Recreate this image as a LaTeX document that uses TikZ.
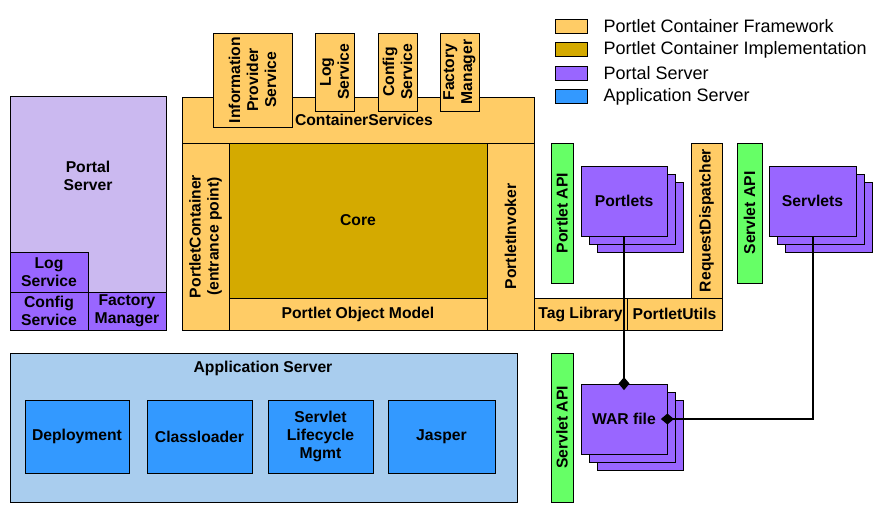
\documentclass[tikz,border=0pt]{standalone}
\usepackage{fontspec}
\setmainfont{Liberation Sans}
\usetikzlibrary{positioning,arrows.meta,fit,shadows}
\definecolor{fwcol}{HTML}{FFCC66}
\definecolor{implcol}{HTML}{D4AA00}
\definecolor{pscol}{HTML}{9966FF}
\definecolor{ascol}{HTML}{3399FF}
\definecolor{apicol}{HTML}{66FF66}
\definecolor{pslight}{HTML}{CBB9F0}
\definecolor{aslight}{HTML}{A9CDEE}

\begin{document}
\begin{tikzpicture}[x=1pt, y=-1pt, font=\bfseries\fontsize{15.7}{18}\selectfont,
  box/.style={draw, line width=0.8pt, inner sep=0pt, align=center},
  fw/.style={box, fill=fwcol}, impl/.style={box, fill=implcol},
  ps/.style={box, fill=pscol}, as/.style={box, fill=ascol}, api/.style={box, fill=apicol},
  stack/.style={ps, double copy shadow={shadow xshift=8pt, shadow yshift=-8pt}},
  htext/.style={label={[align=center, inner sep=0pt]center:#1}},
  vtext/.style={label={[rotate=90, align=center, inner sep=0pt]center:#1}},
  txt/.style={align=center, inner sep=0pt},
  conn/.style={line width=2pt, -{Diamond[length=13pt, width=11pt]}, shorten >=-6.5pt}]
\useasboundingbox (0,0) rectangle (890,514);

% portal server
\node[box, fill=pslight, fit={(10,96) (166,330)}] (portal) {};
\node[txt] (portaltxt) at (88,176) {Portal\\Server};
\node[ps, fit={(10,252) (88,292)}, htext={Log\\Service}] (plog) {};
\node[ps, fit={(10,292) (88,330)}, htext={Config\\Service}] (pcfg) {};
\node[ps, fit={(88,292) (166,330)}, htext={Factory\\Manager}] (pfac) {};

% portlet container
\node[fw, fit={(182,97) (534,143)}] (cs) {};
\node[txt] (cstxt) at (364,120) {ContainerServices};
\node[fw, fit={(213,33) (292,127)}, vtext={Information\\Provider\\Service}] (ips) {};
\node[fw, fit={(315,33) (354,111)}, vtext={Log\\Service}] (clog) {};
\node[fw, fit={(378,33) (417,111)}, vtext={Config\\Service}] (ccfg) {};
\node[fw, fit={(440,33) (479,111)}, vtext={Factory\\Manager}] (cfac) {};
\node[fw, fit={(182,143) (229,330)}, vtext={PortletContainer\\(entrance point)}] (pc) {};
\node[impl, fit={(229,143) (487,298)}, htext={Core}] (core) {};
\node[fw, fit={(229,298) (487,330)}, htext={Portlet Object Model}] (pom) {};
\node[fw, fit={(487,143) (534,330)}, vtext={PortletInvoker}] (pinv) {};
\node[fw, fit={(691,143) (722,298)}, vtext={RequestDispatcher}] (rd) {};
\node[fw, fit={(534,298) (627,330)}, htext={Tag Library}] (tag) {};
\node[fw, fit={(627,298) (722,330)}, htext={PortletUtils}] (putil) {};

% apis and components
\node[api, fit={(551,143) (573,283)}, vtext={Portlet API}] (papi) {};
\node[api, fit={(737,143) (762,283)}, vtext={Servlet API}] (sapi) {};
\node[api, fit={(551,353) (573,502)}, vtext={Servlet API}] (sapi2) {};
\node[stack, fit={(581,166) (667,236)}, htext={Portlets}] (portlets) {};
\node[stack, fit={(769,166) (856,236)}, htext={Servlets}] (servlets) {};
\node[stack, fit={(581,384) (667,454)}, htext={WAR file}] (war) {};

% application server
\node[box, fill=aslight, fit={(10,353) (517,502)}] (appsrv) {};
\node[txt] (appsrvtxt) at (263,368) {Application Server};
\node[as, fit={(25,400) (129,473)}, htext={Deployment}] (dep) {};
\node[as, fit={(147,400) (252,473)}, htext={Classloader}] (cls) {};
\node[as, fit={(268,400) (373,473)}, htext={Servlet\\Lifecycle\\Mgmt}] (slm) {};
\node[as, fit={(388,400) (495,473)}, htext={Jasper}] (jas) {};

\draw[conn] (portlets) -- (war);
\draw[conn] (servlets) |- (war);

% legend
\foreach \i/\y/\c/\t in {1/26/fwcol/Portlet Container Framework, 2/49.5/implcol/Portlet Container Implementation, 3/73/pscol/Portal Server, 4/96.5/ascol/Application Server} {
  \node[box, fill=\c, minimum width=32, minimum height=14] (sw\i) at (571,\y) {};
  \node[right=16pt of sw\i, inner sep=0pt, font=\mdseries\fontsize{18}{20}\selectfont] (lt\i) {\t};
}
\end{tikzpicture}
\end{document}
